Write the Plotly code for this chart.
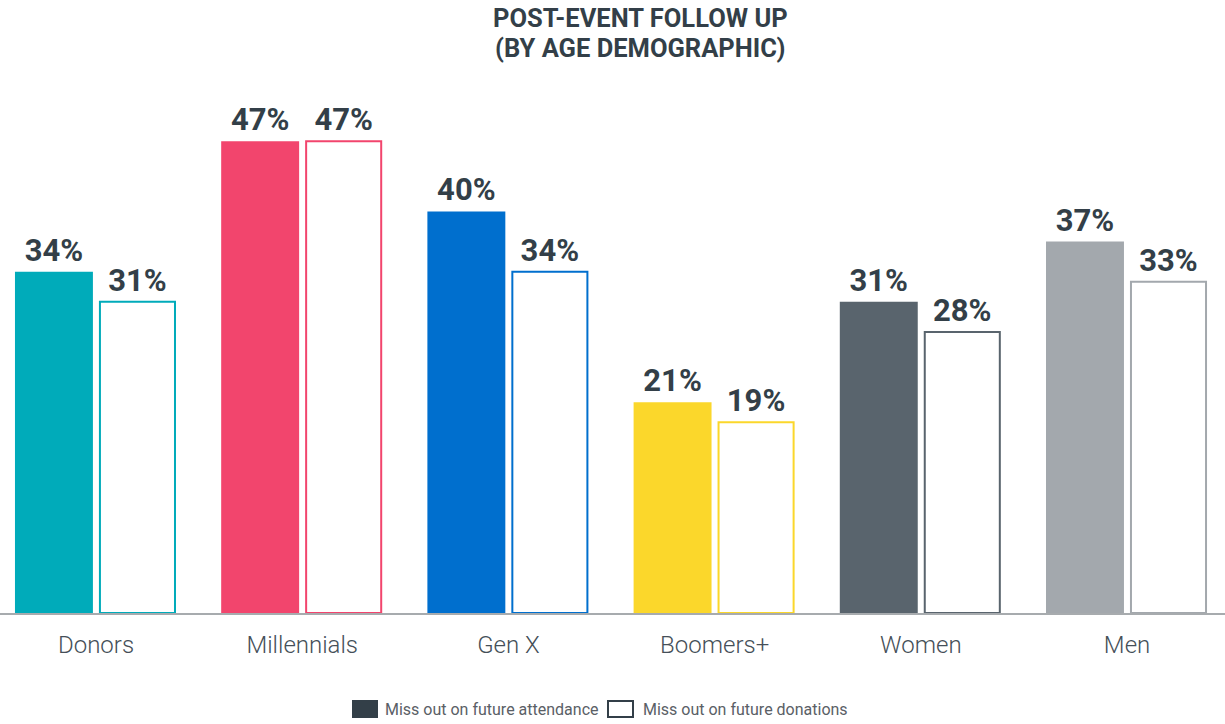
import plotly.graph_objects as go

# Survey results: share who would miss out, by audience segment
categories = ["Donors", "Millennials", "Gen X", "Boomers+", "Women", "Men"]
attendance = [34, 47, 40, 21, 31, 37]
donations = [31, 47, 34, 19, 28, 33]
segment_colors = ["#00abba", "#f2456d", "#006fce", "#fbd72b", "#59646d", "#a3a8ad"]
series_names = ["Miss out on future attendance", "Miss out on future donations"]
title_lines = ["POST-EVENT FOLLOW UP", "(BY AGE DEMOGRAPHIC)"]

TEXT_DARK = "#333f48"
FONT = "Roboto"

fig = go.Figure()

# Filled bars: future attendance
fig.add_trace(go.Bar(
    x=categories,
    y=attendance,
    name=series_names[0],
    marker=dict(color=segment_colors, line=dict(width=0)),
    width=0.378,
    offset=-0.393,
    text=[f"{v}%" for v in attendance],
    textposition="outside",
    textfont=dict(family=FONT, size=31, color=TEXT_DARK, weight="bold"),
    cliponaxis=False,
    showlegend=False,
))

# Outlined bars: future donations
fig.add_trace(go.Bar(
    x=categories,
    y=donations,
    name=series_names[1],
    marker=dict(color="white", line=dict(color=segment_colors, width=2)),
    width=0.364,
    offset=0.019,
    text=[f"{v}%" for v in donations],
    textposition="outside",
    textfont=dict(family=FONT, size=31, color=TEXT_DARK, weight="bold"),
    cliponaxis=False,
    showlegend=False,
))

W, H = 1225, 724

# Two-line title; the base font size sets a compact line spacing
title_html = "<br>".join(
    f"<b><span style='font-size:25.5px'>{line}</span></b>" for line in title_lines
)
fig.add_annotation(text=title_html, xref="paper", yref="paper",
                   x=641 / W, y=1, yanchor="bottom", showarrow=False,
                   font=dict(family=FONT, size=23, color=TEXT_DARK), yshift=35)

# Custom legend with large swatches
def px_x(p):
    return p / W

def px_y(p):
    return 1 - (p - 100) / 513

fig.add_shape(type="rect", xref="paper", yref="paper",
              x0=px_x(352), x1=px_x(378), y0=px_y(718), y1=px_y(700),
              fillcolor=TEXT_DARK, line=dict(width=0))
fig.add_shape(type="rect", xref="paper", yref="paper",
              x0=px_x(608), x1=px_x(633), y0=px_y(717), y1=px_y(701),
              fillcolor="white", line=dict(color=TEXT_DARK, width=2))
fig.add_annotation(text=series_names[0], xref="paper", yref="paper",
                   x=px_x(383), y=px_y(709), xanchor="left", yanchor="middle",
                   showarrow=False, font=dict(family=FONT, size=16, color="#5a6066"))
fig.add_annotation(text=series_names[1], xref="paper", yref="paper",
                   x=px_x(641), y=px_y(709), xanchor="left", yanchor="middle",
                   showarrow=False, font=dict(family=FONT, size=16, color="#5a6066"))

fig.update_layout(
    width=W, height=H,
    margin=dict(l=0, r=0, t=100, b=111),
    plot_bgcolor="white",
    paper_bgcolor="white",
    barmode="group",
    showlegend=False,
    font=dict(family=FONT),
    xaxis=dict(
        range=[-0.4656, 5.475],
        showline=True, linecolor="#a7abae", linewidth=2,
        showgrid=False, zeroline=False, ticks="",
        tickfont=dict(family=FONT, size=24, color="#454f58", weight=300),
        ticklabelstandoff=9,
    ),
    yaxis=dict(range=[0, 51.1], visible=False),
)

fig.write_html("out.html")
